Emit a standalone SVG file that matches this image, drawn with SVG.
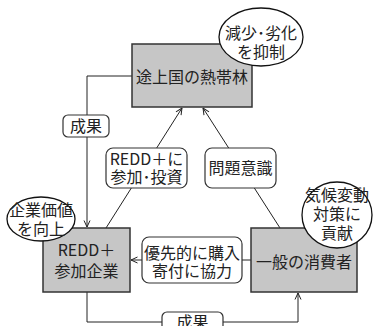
<svg xmlns="http://www.w3.org/2000/svg" width="375" height="326" viewBox="0 0 375 326">
<style>
text{font-family:"Noto Sans CJK JP","Noto Sans",sans-serif;font-size:16px;fill:#222;text-anchor:middle}
.box{fill:#c6c6c6;stroke:#333;stroke-width:1.5}
.ell{fill:#fff;stroke:#111;stroke-width:1.3}
.lbl{fill:#fff;stroke:#333;stroke-width:1.2}
.ln{fill:none;stroke:#222;stroke-width:1}
</style>
<defs>
<marker id="ah" viewBox="0 0 8 8" refX="7.5" refY="4" markerWidth="8" markerHeight="8" markerUnits="userSpaceOnUse" orient="auto">
<path d="M1,1 L7.5,4 L1,7" fill="none" stroke="#222" stroke-width="1"/>
</marker>
</defs>
<g id="connectors">
<polyline class="ln" points="132,76 87,76 87,227" marker-end="url(#ah)"/>
<line class="ln" x1="106" y1="228" x2="182" y2="108" marker-end="url(#ah)"/>
<line class="ln" x1="280" y1="228" x2="203" y2="108" marker-end="url(#ah)"/>
<line class="ln" x1="251" y1="260" x2="131" y2="260" marker-end="url(#ah)"/>
<polyline class="ln" points="87,292 87,322 298,322 298,293" marker-end="url(#ah)"/>
</g>
<g id="label-seika1">
<rect class="lbl" x="63" y="115" width="46" height="22" rx="5"/>
<text x="86" y="132">成果</text>
</g>
<g id="label-redd">
<rect class="lbl" x="106" y="148" width="81" height="40" rx="7"/>
<text x="146.5" y="165">REDD＋に</text>
<text x="146.5" y="183">参加･投資</text>
</g>
<g id="label-mondai">
<rect class="lbl" x="205" y="148" width="71" height="40" rx="7"/>
<text x="240.5" y="174">問題意識</text>
</g>
<g id="label-yusen">
<rect class="lbl" x="142" y="237" width="100" height="46" rx="7"/>
<text x="192" y="259">優先的に購入</text>
<text x="192" y="277">寄付に協力</text>
</g>
<g id="label-seika2">
<rect class="lbl" x="162" y="312" width="61" height="22" rx="5"/>
<text x="192.5" y="328">成果</text>
</g>
<g id="forest">
<rect class="box" x="132" y="44" width="120" height="63"/>
<text x="192" y="83">途上国の熱帯林</text>
</g>
<g id="forest-note">
<ellipse class="ell" cx="261" cy="37" rx="42" ry="29"/>
<text x="261" y="39">減少･劣化</text>
<text x="261" y="58">を抑制</text>
</g>
<g id="company">
<rect class="box" x="43" y="228" width="87" height="64"/>
<text x="86.5" y="256">REDD＋</text>
<text x="86.5" y="277">参加企業</text>
</g>
<g id="company-note">
<ellipse class="ell" cx="41" cy="219" rx="34" ry="22"/>
<text x="41" y="216">企業価値</text>
<text x="41" y="235">を向上</text>
</g>
<g id="consumer">
<rect class="box" x="251" y="228" width="106" height="64"/>
<text x="304" y="268">一般の消費者</text>
</g>
<g id="consumer-note">
<ellipse class="ell" cx="337" cy="215" rx="35" ry="33"/>
<text x="337" y="201">気候変動</text>
<text x="337" y="220">対策に</text>
<text x="337" y="239">貢献</text>
</g>
</svg>
